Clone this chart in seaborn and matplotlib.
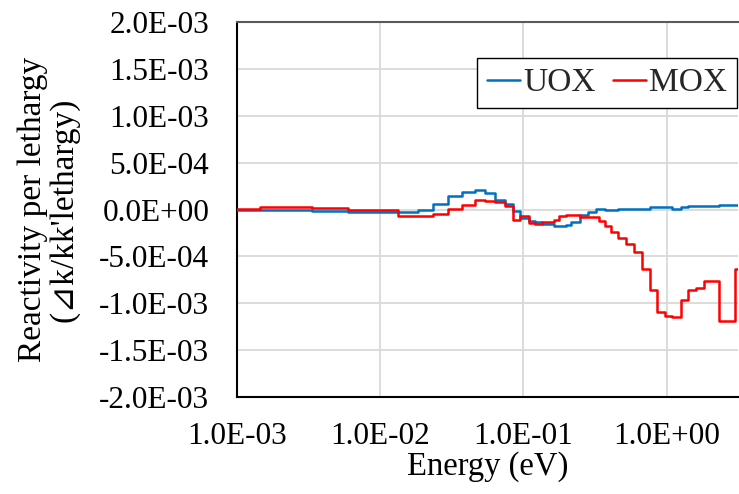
import numpy as np
import pandas as pd
import matplotlib
matplotlib.use("Agg")
import matplotlib.pyplot as plt
import seaborn as sns
from matplotlib.ticker import FuncFormatter, FixedLocator, NullLocator

# Group energy boundaries (eV)
energy_edges = [1.0e-3, 1.45e-3, 3.36e-3, 5.94e-3, 1.33e-2, 1.83e-2, 2.34e-2, 2.98e-2,
                3.73e-2, 4.56e-2, 5.37e-2, 6.33e-2, 7.41e-2, 8.45e-2, 9.45e-2, 0.1092,
                0.1212, 0.1356, 0.1644, 0.1782, 0.1985, 0.2150, 0.2496, 0.2806, 0.3211,
                0.3385, 0.3727, 0.4072, 0.4541, 0.5164, 0.5888, 0.6718, 0.7612, 0.8518,
                0.9761, 1.098, 1.256, 1.412, 1.614, 1.811, 2.311, 3.002, 4.0]

# Reactivity per lethargy in units of 1e-5 for each group
uox_vals = [-0.5, -0.5, -1.8, -3.0, -3.0, 0.0, 6.0, 14.5, 18.5, 21.0, 17.5, 10.5, 5.5,
            -1.0, -9.0, -12.5, -13.5, -15.0, -17.5, -17.5, -16.0, -13.5, -6.0, -2.5,
            0.5, 0.7, -0.7, -0.7, 1.0, 1.0, 1.0, 1.0, 2.5, 2.5, 2.5, 0.7, 2.9, 4.3,
            4.3, 4.3, 5.3, 5.3]
mox_vals = [1.0, 3.0, 1.5, -0.7, -6.4, -7.0, -4.8, 0.5, 5.0, 10.2, 9.6, 7.8, 3.8,
            -11.0, -6.4, -14.2, -15.3, -13.6, -11.4, -7.2, -5.3, -5.3, -8.0, -8.0,
            -8.0, -12.5, -17.9, -24.0, -30.3, -36.6, -45.0, -63.4, -86.0, -109.8,
            -113.4, -114.8, -97.0, -85.6, -83.7, -75.8, -118.4, -63.4]

series_names = ["UOX", "MOX"]
series_colors = {"UOX": "#0070C0", "MOX": "#FF0000"}

x_ticks = [1e-3, 1e-2, 1e-1, 1e0]
y_ticks = [-2.0e-3, -1.5e-3, -1.0e-3, -5.0e-4, 0.0, 5.0e-4, 1.0e-3, 1.5e-3, 2.0e-3]

rows = []
for name, vals in zip(series_names, [uox_vals, mox_vals]):
    ys = list(vals) + [vals[-1]]
    for e, v in zip(energy_edges, ys):
        rows.append({"Energy": e, "Value": v * 1e-5, "Series": name})
df = pd.DataFrame(rows)

sns.set_theme(style="white")
plt.rcParams["font.family"] = ["Liberation Serif", "DejaVu Sans"]
plt.rcParams["axes.unicode_minus"] = False

fig = plt.figure(figsize=(7.39, 4.94), dpi=100)
ax = fig.add_axes([0.3207, 0.1964, 0.6783, 0.7585])

ax.set_xscale("log")
for xt in x_ticks:
    ax.axvline(xt, color="#d9d9d9", lw=1.3, zorder=0)
for yt in y_ticks:
    ax.axhline(yt, color="#d9d9d9", lw=1.3, zorder=0)

sns.lineplot(data=df, x="Energy", y="Value", hue="Series", hue_order=series_names,
             palette=series_colors, estimator=None, sort=False,
             drawstyle="steps-post", linewidth=1.8, ax=ax, zorder=3)

ax.set_xlim(1e-3, 10 ** 0.5)
ax.set_ylim(-2.0e-3, 2.0e-3)
ax.xaxis.set_major_locator(FixedLocator(x_ticks))
ax.xaxis.set_minor_locator(NullLocator())
ax.yaxis.set_major_locator(FixedLocator(y_ticks))
ax.xaxis.set_major_formatter(FuncFormatter(lambda v, p: f"{v:.1E}"))
ax.yaxis.set_major_formatter(FuncFormatter(lambda v, p: f"{v:.1E}"))

ax.tick_params(axis="both", which="major", direction="in", length=4, width=1,
               color="black", labelsize=22.5, labelcolor="black")
ax.tick_params(axis="y", pad=20)
ax.tick_params(axis="x", pad=18)

for s in ["left", "bottom"]:
    ax.spines[s].set_color("black")
    ax.spines[s].set_linewidth(1.5)
ax.spines["top"].set_color("#595959")
ax.spines["top"].set_linewidth(1.5)
ax.spines["right"].set_visible(False)

ax.set_xlabel("Energy (eV)", fontsize=23.5, labelpad=0, color="black")
ax.set_ylabel("Reactivity per lethargy\n(⊿k/kk'lethargy)", fontsize=24,
              labelpad=14, color="black", linespacing=1.05)

leg = ax.legend(loc="upper right", bbox_to_anchor=(0.998, 0.905), borderaxespad=0,
                ncol=2, fontsize=24, frameon=True, fancybox=False, framealpha=1,
                edgecolor="black", handlelength=1.0, handletextpad=0.1,
                columnspacing=0.5, borderpad=0.3)
leg.get_frame().set_linewidth(1.0)
for line in leg.get_lines():
    line.set_linewidth(1.8)

fig.savefig("out.png", dpi=100)
